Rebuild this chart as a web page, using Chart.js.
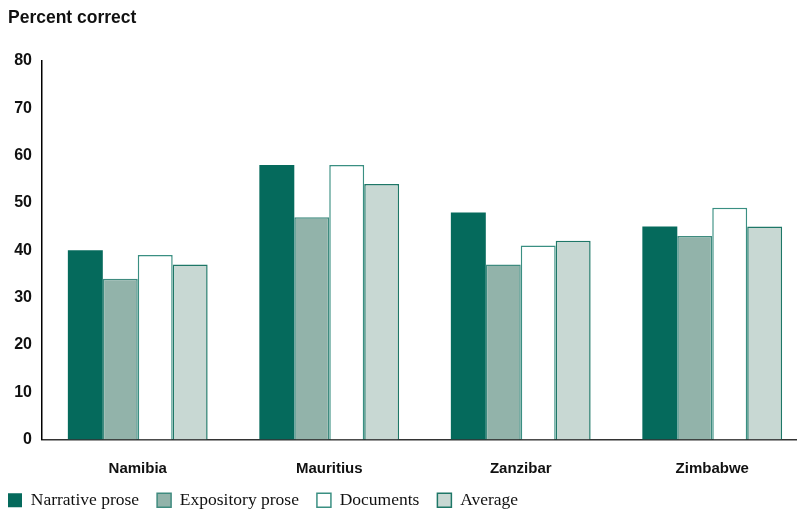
<!DOCTYPE html>
<html>
<head>
<meta charset="utf-8">
<script src="https://cdn.jsdelivr.net/npm/chart.js@4"></script>
<style>
  html, body { margin: 0; padding: 0; background: #fff; overflow: hidden; }
  #wrap { position: relative; width: 808px; height: 511px; }
  #title {
    position: absolute; left: 8px; top: 7px;
    font: bold 17.5px "Liberation Sans", Arial, sans-serif; color: #111;
  }
</style>
</head>
<body>
<div id="wrap">
  <div id="title">Percent correct</div>
  <canvas id="chart" width="808" height="511"></canvas>
</div>
<script>
// Data
const countries = ['Namibia', 'Mauritius', 'Zanzibar', 'Zimbabwe'];
const narrative = [40, 58, 48, 45];
const expository = [34, 47, 37, 43];
const documentsScores = [39, 58, 41, 49];
const average = [37, 54, 42, 45];
const yTicks = [0, 10, 20, 30, 40, 50, 60, 70, 80];

const colors = {
    narrative: '#056a5c',
    expository: '#92b3aa',
    expositoryEdge: '#3f8b7f',
    documentsEdge: '#3a8f82',
    average: '#c8d8d3',
    averageEdge: '#1e7767'
};

const sansBold = { family: '"Liberation Sans", Arial, sans-serif', weight: 'bold' };

new Chart(document.getElementById('chart'), {
    type: 'bar',
    data: {
        labels: countries,
        datasets: [
            {
                label: 'Narrative prose',
                data: narrative,
                backgroundColor: colors.narrative,
                borderColor: colors.narrative,
                borderWidth: 0
            },
            {
                label: 'Expository prose',
                data: expository,
                backgroundColor: colors.expository,
                borderColor: colors.expositoryEdge,
                borderWidth: 1.5
            },
            {
                label: 'Documents',
                data: documentsScores,
                backgroundColor: '#ffffff',
                borderColor: colors.documentsEdge,
                borderWidth: 1.5
            },
            {
                label: 'Average',
                data: average,
                backgroundColor: colors.average,
                borderColor: colors.averageEdge,
                borderWidth: 1.5
            }
        ]
    },
    options: {
        responsive: false,
        animation: false,
        // negative left/bottom padding pulls the legend into the page corner
        layout: { padding: { left: -10, right: 0, top: 61, bottom: -8 } },
        datasets: {
            bar: { categoryPercentage: 0.73, barPercentage: 1.0 }
        },
        plugins: {
            legend: {
                position: 'bottom',
                align: 'start',
                labels: {
                    color: '#111',
                    boxWidth: 14,
                    boxHeight: 14,
                    padding: 18,
                    font: { family: '"Liberation Serif", "Times New Roman", serif', size: 17.5 }
                }
            },
            tooltip: { enabled: false }
        },
        scales: {
            x: {
                grid: { display: false },
                border: { color: '#333', width: 1.5 },
                afterFit: s => { s.height -= 16; },
                ticks: {
                    color: '#111',
                    padding: 12,
                    font: { ...sansBold, size: 15 }
                }
            },
            y: {
                min: 0,
                max: 80,
                afterFit: s => { s.width = 52; },
                afterBuildTicks: s => { s.ticks = yTicks.map(v => ({ value: v })); },
                grid: { display: false },
                border: { color: '#000', width: 1.5 },
                ticks: {
                    color: '#111',
                    padding: 2,
                    font: { ...sansBold, size: 16 }
                }
            }
        }
    }
});
</script>
</body>
</html>
